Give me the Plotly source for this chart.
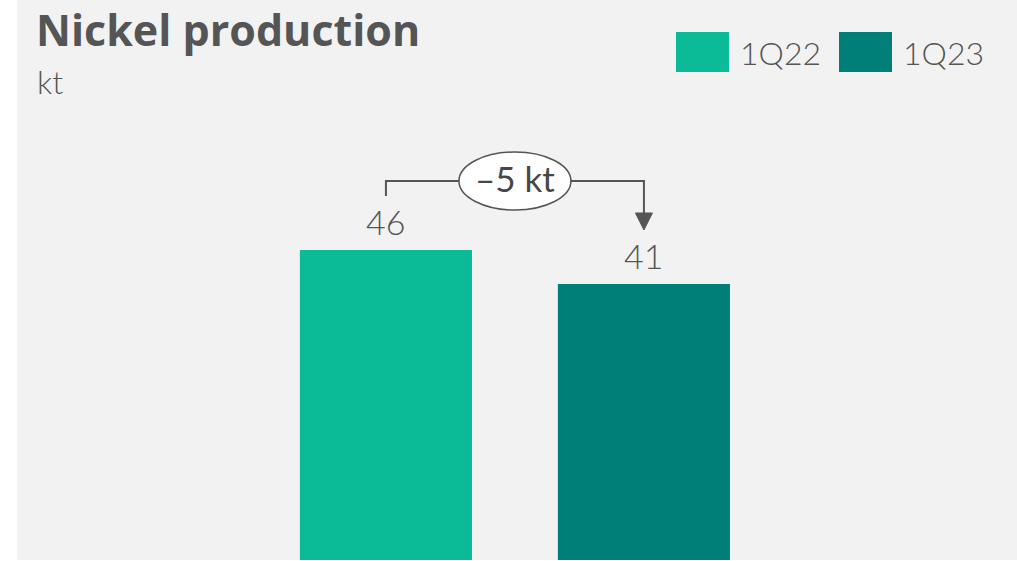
import plotly.graph_objects as go

categories = ["1Q22", "1Q23"]
values = [46, 41]
colors = ["#0bbb97", "#007f78"]
title = "Nickel production"
unit = "kt"
delta_label = "\u20135 kt"

TXT = "#555555"
BG = "#f2f2f2"
FONT = "Lato"

fig = go.Figure()
for c, v, col in zip(categories, values, colors):
    fig.add_trace(go.Bar(x=[c], y=[v], name=c, marker=dict(color=col, line=dict(width=0)),
                         width=0.667, showlegend=False))

# value labels
for c, v in zip(categories, values):
    fig.add_annotation(x=c, y=v, text=str(v), showarrow=False, yanchor="bottom", yshift=6,
                       font=dict(family=FONT, size=34, color=TXT, weight=300))

# bracket with arrow
top = max(values) + 10.15
x0, x1 = 0, 1
fig.add_shape(type="path",
              path=f"M {x0} {values[0]+7.94} L {x0} {top} L {x1} {top} L {x1} {values[1]+10.3}",
              xref="x", yref="y", line=dict(color=TXT, width=2))
fig.add_shape(type="path",
              path=f"M {x1-0.033} {values[1]+10.44} L {x1+0.033} {values[1]+10.44} L {x1} {values[1]+7.94} Z",
              xref="x", yref="y", fillcolor=TXT, line=dict(color=TXT, width=1))
fig.add_shape(type="circle", xref="x", yref="y", x0=0.283, x1=0.717,
              y0=top - 4.27, y1=top + 4.26, fillcolor="white", line=dict(color=TXT, width=1.5))
fig.add_annotation(x=0.5, y=top + 0.44, xref="x", yref="y", text=delta_label, showarrow=False,
                   font=dict(family=FONT, size=35, color="#474747"))

# title
fig.add_annotation(x=0.017, y=1.004, xref="paper", yref="paper", text=f"<b>{title}</b>",
                   showarrow=False, xanchor="left", yanchor="top",
                   font=dict(family="Open Sans", size=43, color=TXT))
fig.add_annotation(x=0.018, y=0.892, xref="paper", yref="paper", text=unit,
                   showarrow=False, xanchor="left", yanchor="top",
                   font=dict(family=FONT, size=32, color=TXT, weight=300))

# custom legend
leg_x = [(676 - 17) / 1000, (839 - 17) / 1000]
for lx, c, col in zip(leg_x, categories, colors):
    fig.add_shape(type="rect", xref="paper", yref="paper", x0=lx, x1=lx + 0.053,
                  y0=1 - 72 / 560, y1=1 - 32 / 560, fillcolor=col, line=dict(width=0))
    fig.add_annotation(x=lx + 0.062, y=1 - 52 / 560, xref="paper", yref="paper", text=c,
                       showarrow=False, xanchor="left", yanchor="middle",
                       font=dict(family=FONT, size=32, color=TXT, weight=300))

fig.update_layout(
    width=1017, height=561,
    margin=dict(l=17, r=0, t=0, b=1),
    paper_bgcolor="white", plot_bgcolor=BG,
    barmode="overlay",
    xaxis=dict(type="category", range=[-1.430, 2.446], visible=False, fixedrange=True),
    yaxis=dict(range=[0.41, 82.76], visible=False, fixedrange=True),
    showlegend=False,
)

fig.write_html("out.html")
